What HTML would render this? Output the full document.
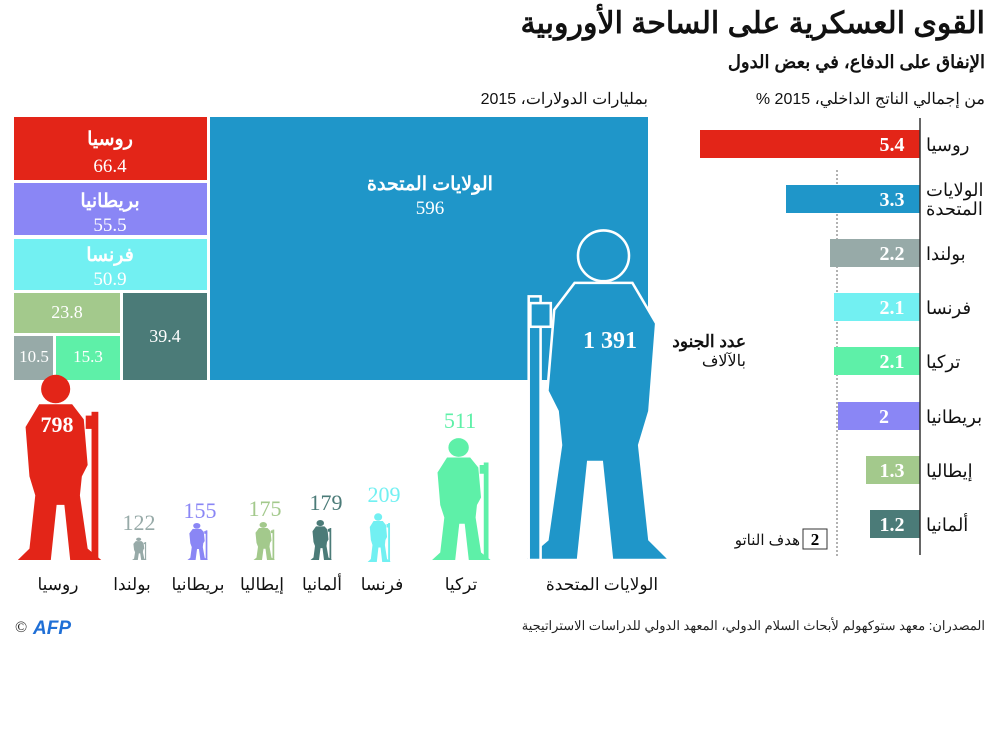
<!DOCTYPE html>
<html><head><meta charset="utf-8"><style>
body{margin:0;background:#fff;width:1000px;height:750px;overflow:hidden;font-family:"Liberation Serif","Noto Sans CJK SC",serif}
svg text{font-family:"Liberation Serif","Noto Sans CJK SC",serif}
.ar{font-family:"Liberation Sans","Noto Sans CJK SC",sans-serif}
</style></head><body>
<svg width="1000" height="750" viewBox="0 0 1000 750">
<defs>
<g id="sol">
<circle cx="45" cy="20" r="15"/>
<path d="M28,36 L62,36 L74,52 L78,100 L72,112 L70,132 L78,188 L92,200 L60,200 L54,142 L46,142 L40,200 L6,200 L18,188 L24,132 L18,112 L14,60 Z"/>
<rect x="82" y="44" width="7" height="156"/>
<rect x="76" y="48" width="12" height="14"/>
</g>
</defs>
<text x="985" y="33" text-anchor="end" font-size="30" font-weight="bold" class="ar" fill="#111">القوى العسكرية على الساحة الأوروبية</text>
<text x="985" y="68" text-anchor="end" font-size="18" font-weight="bold" class="ar" fill="#111">الإنفاق على الدفاع، في بعض الدول</text>
<text x="985" y="104" text-anchor="end" font-size="16" class="ar" fill="#111">% من إجمالي الناتج الداخلي، 2015</text>
<text x="648" y="104" text-anchor="end" font-size="16" class="ar" fill="#111">بمليارات الدولارات، 2015</text>

<!-- treemap -->
<rect x="14" y="117" width="193" height="63" fill="#e32518"/>
<rect x="14" y="183" width="193" height="52" fill="#8a86f5"/>
<rect x="14" y="239" width="193" height="51" fill="#72f0f2"/>
<rect x="14" y="293" width="106" height="40" fill="#a3c98c"/>
<rect x="123" y="293" width="84" height="87" fill="#4b7b78"/>
<rect x="14" y="336" width="39" height="44" fill="#97aaa8"/>
<rect x="56" y="336" width="64" height="44" fill="#5ef0a8"/>
<rect x="210" y="117" width="438" height="263" fill="#1f96c9"/>
<g fill="#fff" text-anchor="middle">
<text x="110" y="145" font-size="19" font-weight="bold" class="ar">روسيا</text>
<text x="110" y="172" font-size="19">66.4</text>
<text x="110" y="207" font-size="19" font-weight="bold" class="ar">بريطانيا</text>
<text x="110" y="231" font-size="19">55.5</text>
<text x="110" y="261" font-size="19" font-weight="bold" class="ar">فرنسا</text>
<text x="110" y="285" font-size="19">50.9</text>
<text x="67" y="318" font-size="18">23.8</text>
<text x="165" y="342" font-size="18">39.4</text>
<text x="34" y="362" font-size="17">10.5</text>
<text x="88" y="362" font-size="17">15.3</text>
<text x="430" y="190" font-size="19" font-weight="bold" class="ar">الولايات المتحدة</text>
<text x="430" y="214" font-size="19">596</text>
</g>

<!-- soldiers -->
<use href="#sol" transform="translate(12,370) scale(0.97,0.95)" fill="#e32518"/>
<use href="#sol" transform="translate(680,222) scale(-1.7,1.69)" fill="#1f96c9" stroke="#fff" stroke-width="1.5"/>
<use href="#sol" transform="translate(428,435) scale(0.68,0.625)" fill="#5ef0a8"/>
<use href="#sol" transform="translate(366,512) scale(0.27,0.25)" fill="#72f0f2"/>
<use href="#sol" transform="translate(309,519) scale(0.25,0.205)" fill="#4b7b78"/>
<use href="#sol" transform="translate(252,521) scale(0.25,0.195)" fill="#a3c98c"/>
<use href="#sol" transform="translate(186,522) scale(0.24,0.19)" fill="#8a86f5"/>
<use href="#sol" transform="translate(131,537) scale(0.17,0.115)" fill="#97aaa8"/>
<g text-anchor="middle" font-size="22" font-weight="bold">
<text x="57" y="432" fill="#fff">798</text>
<text x="139" y="530" fill="#97aaa8" font-weight="normal">122</text>
<text x="200" y="518" fill="#8a86f5" font-weight="normal">155</text>
<text x="265" y="516" fill="#a3c98c" font-weight="normal">175</text>
<text x="326" y="510" fill="#4b7b78" font-weight="normal">179</text>
<text x="384" y="502" fill="#72f0f2" font-weight="normal">209</text>
<text x="460" y="428" fill="#5ef0a8" font-weight="normal">511</text>
<text x="610" y="348" fill="#fff" font-size="24">1 391</text>
</g>
<text x="746" y="347" text-anchor="end" font-size="17" font-weight="bold" class="ar" fill="#111">عدد الجنود</text>
<text x="746" y="366" text-anchor="end" font-size="16" class="ar" fill="#111">بالآلاف</text>
<g font-size="17" class="ar" fill="#111" text-anchor="middle">
<text x="58" y="590">روسيا</text>
<text x="132" y="590">بولندا</text>
<text x="198" y="590">بريطانيا</text>
<text x="262" y="590">إيطاليا</text>
<text x="322" y="590">ألمانيا</text>
<text x="382" y="590">فرنسا</text>
<text x="461" y="590">تركيا</text>
<text x="602" y="590">الولايات المتحدة</text>
</g>

<!-- bar chart -->
<line x1="837" y1="170" x2="837" y2="556" stroke="#666" stroke-dasharray="2,2"/>
<rect x="700" y="130" width="220" height="28" fill="#e32518"/>
<rect x="786" y="185" width="134" height="28" fill="#1f96c9"/>
<rect x="830" y="239" width="90" height="28" fill="#97aaa8"/>
<rect x="834" y="293" width="86" height="28" fill="#72f0f2"/>
<rect x="834" y="347" width="86" height="28" fill="#5ef0a8"/>
<rect x="838" y="402" width="82" height="28" fill="#8a86f5"/>
<rect x="866" y="456" width="54" height="28" fill="#a3c98c"/>
<rect x="870" y="510" width="50" height="28" fill="#4b7b78"/>
<line x1="920" y1="118" x2="920" y2="555" stroke="#333" stroke-width="1.5"/>
<g fill="#fff" font-size="20" font-weight="bold" text-anchor="middle">
<text x="892" y="151">5.4</text><text x="892" y="206">3.3</text><text x="892" y="260">2.2</text>
<text x="892" y="314">2.1</text><text x="892" y="368">2.1</text><text x="884" y="423">2</text>
<text x="892" y="477">1.3</text><text x="892" y="531">1.2</text>
</g>
<g font-size="18" class="ar" fill="#111">
<text x="926" y="151">روسيا</text>
<text x="926" y="196">الولايات</text><text x="926" y="215">المتحدة</text>
<text x="926" y="260">بولندا</text><text x="926" y="314">فرنسا</text><text x="926" y="368">تركيا</text>
<text x="926" y="423">بريطانيا</text><text x="926" y="477">إيطاليا</text><text x="926" y="531">ألمانيا</text>
</g>
<rect x="803" y="529" width="24" height="20" fill="#fff" stroke="#333"/>
<text x="815" y="545" text-anchor="middle" font-size="17" font-weight="bold">2</text>
<text x="800" y="545" text-anchor="end" font-size="15" class="ar" fill="#111">هدف الناتو</text>

<text x="985" y="630" text-anchor="end" font-size="13" class="ar" fill="#222">المصدران: معهد ستوكهولم لأبحاث السلام الدولي، المعهد الدولي للدراسات الاستراتيجية</text>
<text x="15" y="632" font-size="16" fill="#222">©</text>
<text x="33" y="634" font-size="19" font-weight="bold" font-style="italic" fill="#1f6fd6" class="ar">AFP</text>
</svg>
</body></html>
